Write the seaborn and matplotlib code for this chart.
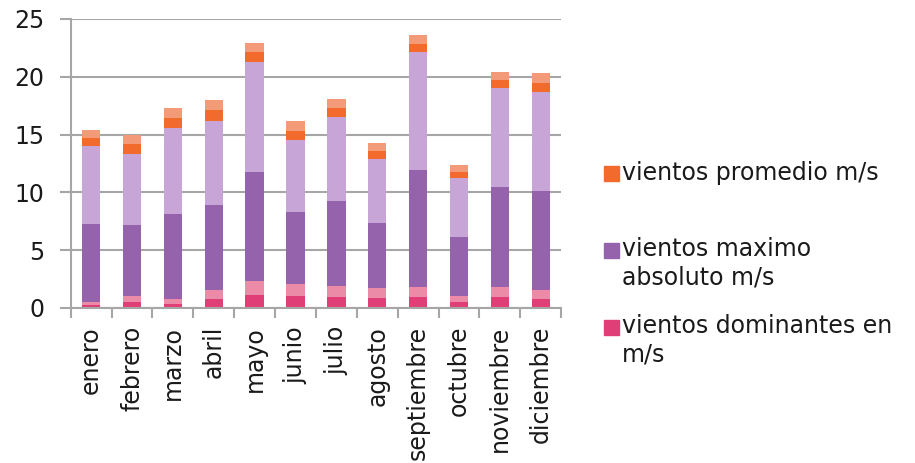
import matplotlib
matplotlib.use("Agg")
import matplotlib.pyplot as plt
import matplotlib.patches as mpatches
from matplotlib.legend_handler import HandlerPatch
import numpy as np
import pandas as pd
import seaborn as sns

months = ["enero", "febrero", "marzo", "abril", "mayo", "junio", "julio",
          "agosto", "septiembre", "octubre", "noviembre", "diciembre"]
dominantes = [0.55, 1.0, 0.75, 1.55, 2.3, 2.1, 1.9, 1.75, 1.85, 1.05, 1.85, 1.55]
maximo = [13.45, 12.3, 14.8, 14.65, 19.0, 12.4, 14.65, 11.15, 20.25, 10.15, 17.15, 17.15]
promedio = [1.4, 1.7, 1.75, 1.8, 1.6, 1.65, 1.55, 1.35, 1.5, 1.2, 1.4, 1.6]

labels = ["vientos promedio m/s\n ", "vientos maximo\nabsoluto m/s", "vientos dominantes en\nm/s"]

sns.set_theme(style="white")
plt.rcParams["font.family"] = ["DejaVu Sans"]

df = pd.DataFrame({"mes": months, "dom": dominantes, "max": maximo, "prom": promedio})
dom = df["dom"].to_numpy()
mx = df["max"].to_numpy()
pr = df["prom"].to_numpy()

layers = [
    (dom + mx + pr, "#F39A78"),
    (dom + mx + pr / 2, "#F26A2C"),
    (dom + mx, "#C7A5D6"),
    (dom + mx / 2, "#9463AC"),
    (dom, "#EC8BA8"),
    (dom / 2, "#DF3F76"),
]

fig = plt.figure(figsize=(9.15, 4.63), dpi=100)
ax = fig.add_axes([0.0773, 0.335, 0.536, 0.624])

for h, c in layers:
    sns.barplot(x=df["mes"], y=h, order=months, color=c, saturation=1,
                width=0.45, edgecolor="none", linewidth=0, ax=ax, errorbar=None)

ax.set_xlim(-0.5, 11.5)
ax.set_ylim(0, 25)
ax.set_yticks(np.arange(0, 26, 5))
ax.set_xlabel("")
ax.set_ylabel("")
ax.yaxis.grid(True, color="#A6A6A6", linewidth=1.5)
ax.set_axisbelow(True)
for s in ["top", "right"]:
    ax.spines[s].set_visible(False)
for s in ["left", "bottom"]:
    ax.spines[s].set_color("#A6A6A6")
    ax.spines[s].set_linewidth(1.5)

ax.tick_params(axis="y", length=8, width=1.5, color="#A6A6A6", labelsize=17,
               labelcolor="#1a1a1a", pad=11, left=True)
ax.set_xticks(range(len(months)))
ax.set_xticklabels(months, rotation=90)
ax.tick_params(axis="x", length=0, labelsize=17, labelcolor="#1a1a1a", pad=13)
ax.set_xticks(np.arange(-0.5, 12, 1), minor=True)
ax.tick_params(axis="x", which="minor", length=7, width=1.5, color="#A6A6A6", bottom=True)


def top_square(legend, orig_handle, xdescent, ydescent, width, height, fontsize):
    return mpatches.Rectangle((-xdescent, -ydescent + 0.6 * fontsize), width, height)


handles = [mpatches.Patch(color="#F26A2C"), mpatches.Patch(color="#9463AC"),
           mpatches.Patch(color="#DF3F76")]
leg = fig.legend(handles, labels, loc="upper left", bbox_to_anchor=(0.637, 0.699),
                 frameon=False, fontsize=17, handlelength=0.62, handleheight=0.62,
                 handletextpad=0.15, labelspacing=1.06, labelcolor="#1a1a1a",
                 handler_map={mpatches.Patch: HandlerPatch(patch_func=top_square)})

fig.savefig("out.png", dpi=100)
